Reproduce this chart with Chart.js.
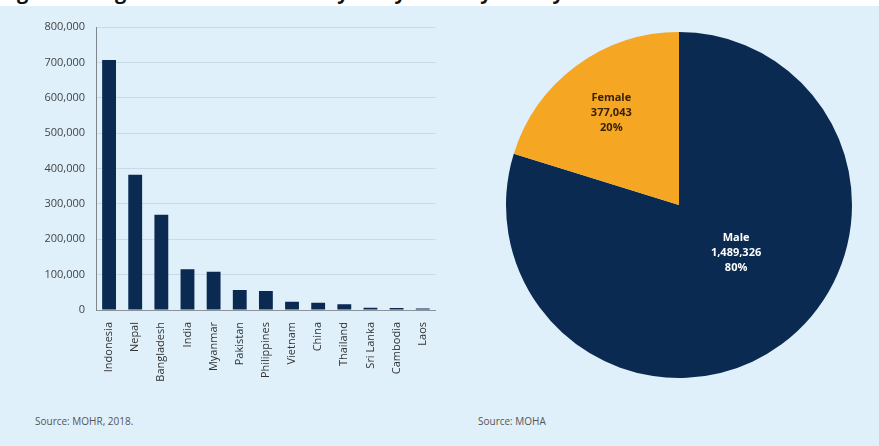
<!DOCTYPE html>
<html>
<head>
<meta charset="utf-8">
<script src="https://cdn.jsdelivr.net/npm/chart.js@4.4.0/dist/chart.umd.min.js"></script>
<style>
  body { margin: 0; width: 879px; height: 446px; background: #dff0fb; position: relative; overflow: hidden; font-family: "Open Sans", sans-serif; }
  #top { position: absolute; left: 0; top: 0; width: 879px; height: 6px; background: #fff; overflow: hidden; }
  #top span { position: absolute; left: 0; top: -22px; font: bold 20px "Open Sans", sans-serif; color: #111; white-space: nowrap; }
  #barWrap { position: absolute; left: 0; top: 0; width: 440px; height: 400px; }
  #pieWrap { position: absolute; left: 499px; top: 25px; width: 360px; height: 360px; }
  .src { position: absolute; top: 414px; font-size: 10px; color: #555; }
</style>
</head>
<body>
<div id="top"><span>Figure 8: Migrant Workers in Malaysia by Country and by Gender</span></div>
<div id="barWrap"><canvas id="barChart"></canvas></div>
<div id="pieWrap"><canvas id="pieChart"></canvas></div>
<div class="src" style="left:35px">Source: MOHR, 2018.</div>
<div class="src" style="left:478px">Source: MOHA</div>
<script>
// Workers by country of origin
const countries = ['Indonesia', 'Nepal', 'Bangladesh', 'India', 'Myanmar', 'Pakistan', 'Philippines',
    'Vietnam', 'China', 'Thailand', 'Sri Lanka', 'Cambodia', 'Laos'];
const workers = [707000, 382000, 269000, 115000, 108000, 56500, 54000, 23500, 20700, 16000, 6600, 6000, 4000];
const yTicks = [0, 100000, 200000, 300000, 400000, 500000, 600000, 700000, 800000];

// Workers by gender
const genders = ['Male', 'Female'];
const genderCounts = [1489326, 377043];
const genderShares = ['80%', '20%'];

const navy = '#0a2a52';
const orange = '#f5a623';

new Chart(document.getElementById('barChart'), {
    type: 'bar',
    data: {
        labels: countries,
        datasets: [{
            data: workers,
            backgroundColor: navy,
            barPercentage: 0.53,
            categoryPercentage: 1
        }]
    },
    options: {
        responsive: true,
        maintainAspectRatio: false,
        animation: false,
        layout: { padding: { top: 27, right: 2 } },
        plugins: { legend: { display: false }, tooltip: { enabled: false } },
        scales: {
            x: {
                afterFit: s => { s.height = 90; },
                grid: { display: false },
                border: { display: true, color: '#8a9399' },
                ticks: { minRotation: 90, maxRotation: 90, padding: 4, color: '#333', font: { family: 'Open Sans', size: 11 } }
            },
            y: {
                min: 0,
                max: 800000,
                afterFit: s => { s.width = 96; },
                afterBuildTicks: s => { s.ticks = yTicks.map(v => ({ value: v })); },
                grid: { color: '#c9dbe7', drawTicks: false },
                border: { display: true, color: '#7d868c' },
                ticks: {
                    padding: 11,
                    color: '#444',
                    font: { family: 'Open Sans', size: 11 },
                    callback: v => v.toLocaleString('en-US')
                }
            }
        }
    }
});

// labels inside the slices: radius fraction and angle shift (radians)
const labelRadius = [0.43, 0.66];
const labelShift = [-0.24, 0];
const labelColors = ['#ffffff', '#3a2106'];

const sliceLabels = {
    id: 'sliceLabels',
    afterDatasetsDraw(chart) {
        const ctx = chart.ctx;
        chart.getDatasetMeta(0).data.forEach((arc, i) => {
            const p = arc.getProps(['x', 'y', 'startAngle', 'endAngle', 'outerRadius']);
            const a = (p.startAngle + p.endAngle) / 2 + labelShift[i];
            const r = p.outerRadius * labelRadius[i];
            const cx = p.x + Math.cos(a) * r;
            const cy = p.y + Math.sin(a) * r;
            const lines = [genders[i], genderCounts[i].toLocaleString('en-US'), genderShares[i]];
            ctx.save();
            ctx.fillStyle = labelColors[i];
            ctx.font = 'bold 11px "Open Sans"';
            ctx.textAlign = 'center';
            ctx.textBaseline = 'middle';
            lines.forEach((t, k) => ctx.fillText(t, cx, cy + (k - 1) * 15));
            ctx.restore();
        });
    }
};

new Chart(document.getElementById('pieChart'), {
    type: 'pie',
    data: {
        labels: genders,
        datasets: [{
            data: genderCounts,
            backgroundColor: [navy, orange],
            borderWidth: 0
        }]
    },
    options: {
        responsive: true,
        maintainAspectRatio: false,
        animation: false,
        layout: { padding: 7 },
        plugins: { legend: { display: false }, tooltip: { enabled: false } }
    },
    plugins: [sliceLabels]
});
</script>
</body>
</html>
